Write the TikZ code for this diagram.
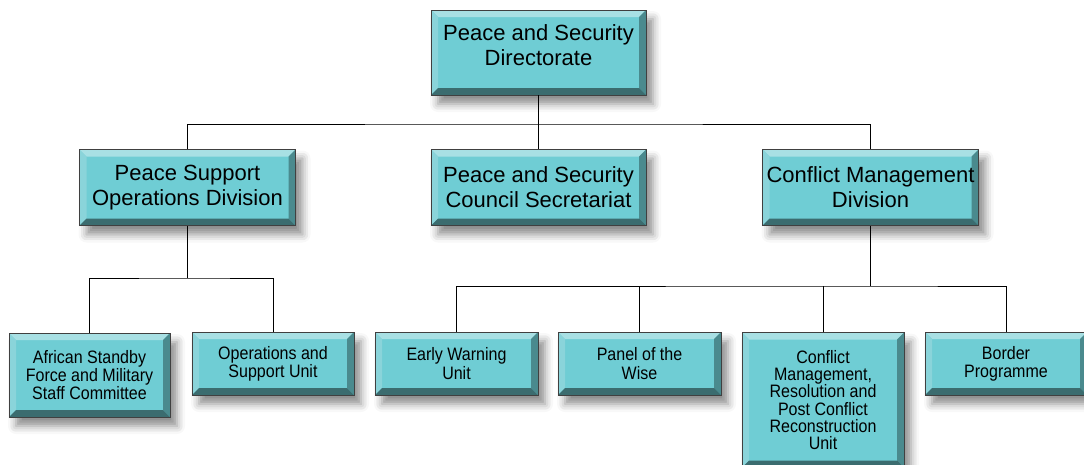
\documentclass[tikz,border=0pt]{standalone}
\usepackage{fontspec}
\setmainfont{Liberation Sans}
\newfontfamily\narrowfont{Liberation Sans}[FakeStretch=0.89]
\usetikzlibrary{shadows.blur}
\definecolor{face}{HTML}{6FCDD4}
\definecolor{btop}{HTML}{A8E0E4}
\definecolor{bleft}{HTML}{8AD4DA}
\definecolor{bright}{HTML}{4A8A8E}
\definecolor{bbot}{HTML}{3B6C6F}
\tikzset{
  box/.style={draw=black!75, line width=0.5pt, fill=face, inner sep=0pt, align=center, text=black,
    blur shadow={shadow xshift=7pt, shadow yshift=-9pt, shadow blur radius=8pt, shadow opacity=45},
    path picture={
      \fill[btop] (path picture bounding box.north west) -- (path picture bounding box.north east)
        -- ([shift={(-7pt,-7pt)}]path picture bounding box.north east)
        -- ([shift={(7pt,-7pt)}]path picture bounding box.north west) -- cycle;
      \fill[bleft] (path picture bounding box.north west) -- ([shift={(7pt,-7pt)}]path picture bounding box.north west)
        -- ([shift={(7pt,7pt)}]path picture bounding box.south west)
        -- (path picture bounding box.south west) -- cycle;
      \fill[bright] (path picture bounding box.north east) -- (path picture bounding box.south east)
        -- ([shift={(-7pt,7pt)}]path picture bounding box.south east)
        -- ([shift={(-7pt,-7pt)}]path picture bounding box.north east) -- cycle;
      \fill[bbot] (path picture bounding box.south west) -- (path picture bounding box.south east)
        -- ([shift={(-7pt,7pt)}]path picture bounding box.south east)
        -- ([shift={(7pt,7pt)}]path picture bounding box.south west) -- cycle;
    }},
  big/.style={box, font=\fontsize{22}{25}\selectfont},
  small/.style={box, font=\narrowfont\fontsize{18}{18.3}\selectfont},
  wire/.style={line width=1pt, black}
}
\begin{document}
\begin{tikzpicture}[x=1pt,y=-1pt]
\useasboundingbox (0,0) rectangle (1084,464);
% level 0
\node[big, minimum width=215pt, minimum height=85pt, text depth=14pt] (top) at (538.5,52.5) {Peace and Security\\Directorate};
% level 1
\node[big, minimum width=216pt, minimum height=76pt] (psod) at (187.5,187.5) {Peace Support\\Operations Division};
\node[big, minimum width=215pt, minimum height=76pt] (psc) at (538.5,187.5) {Peace and Security\\Council Secretariat};
\node[big, minimum width=216pt, minimum height=76pt] (cmd) at (870.5,187.5) {Conflict Management\\Division};
% level 2
\node[small, minimum width=161pt, minimum height=84pt] (asf) at (89.5,375) {African Standby\\Force and Military\\Staff Committee};
\node[small, minimum width=162pt, minimum height=63pt] (osu) at (273,363.5) {Operations and\\Support Unit};
\node[small, minimum width=163pt, minimum height=63pt] (ewu) at (456.5,363.5) {Early Warning\\Unit};
\node[small, minimum width=163pt, minimum height=63pt] (pow) at (639.5,363.5) {Panel of the\\Wise};
\node[small, font=\narrowfont\fontsize{18}{17.2}\selectfont, minimum width=162pt, minimum height=135pt] (cmr) at (823,400) {Conflict\\Management,\\Resolution and\\Post Conflict\\Reconstruction\\Unit};
\node[small, minimum width=162pt, minimum height=63pt] (bp) at (1006,363.5) {Border\\Programme};
% connectors
\coordinate (j1) at (538.5,124);
\coordinate (j2) at (187.5,278);
\coordinate (j3) at (870.5,286);
\draw[wire] (top.south) -- (j1);
\draw[wire] (j1) -- (psc.north);
\draw[wire] (psod.north) |- (j1) -| (cmd.north);
\draw[wire] (psod.south) -- (j2);
\draw[wire] (asf.north) |- (j2) -| (osu.north);
\draw[wire] (cmd.south) -- (j3);
\draw[wire] (ewu.north) |- (j3) -| (bp.north);
\draw[wire] (pow.north) -- (pow.north |- j3);
\draw[wire] (cmr.north) -- (cmr.north |- j3);
\end{tikzpicture}
\end{document}
